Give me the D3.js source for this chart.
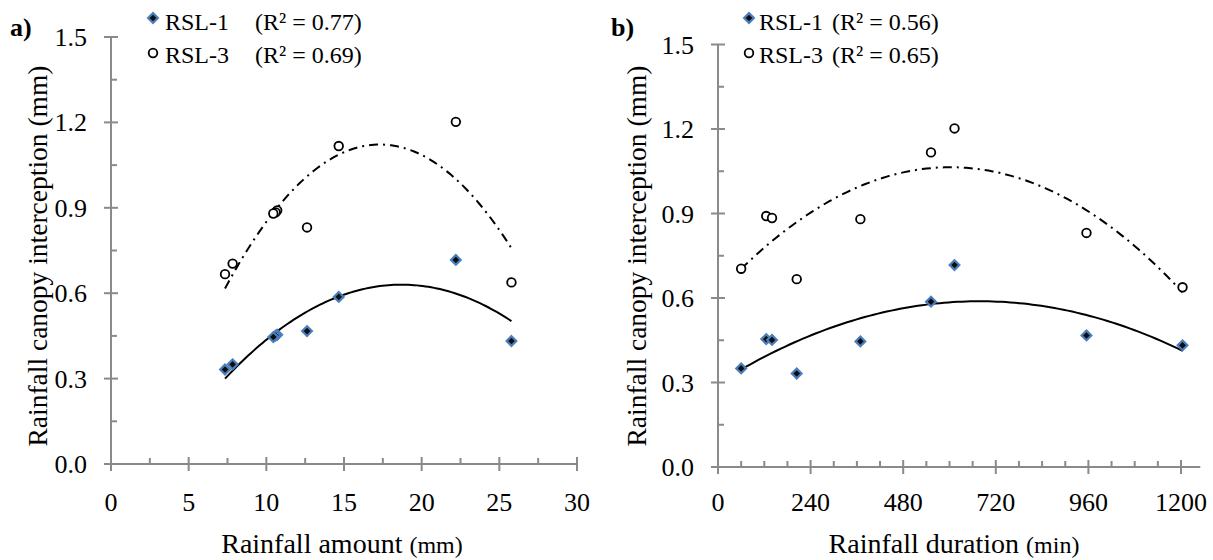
<!DOCTYPE html>
<html>
<head>
<meta charset="utf-8">
<script src="https://cdn.jsdelivr.net/npm/d3@7"></script>
<style>
  body { margin: 0; background: #fff; }
  svg text { font-family: "Liberation Serif", "Times New Roman", serif; fill: #000; }
</style>
</head>
<body>
<svg id="chart" width="1213" height="560"></svg>
<script>
// nine rainfall events, same order in both panels
const rainAmount = [7.83, 10.7, 10.6, 7.34, 10.45, 14.66, 22.2, 12.62, 25.78];   // mm
const rainDuration = [60, 125, 140, 204, 369, 552, 613, 955, 1204];              // min
const rsl1 = [0.350, 0.454, 0.451, 0.332, 0.446, 0.587, 0.717, 0.467, 0.432];
const rsl3 = [0.704, 0.891, 0.884, 0.667, 0.880, 1.117, 1.202, 0.831, 0.638];

const yTicks = [0, 0.3, 0.6, 0.9, 1.2, 1.5];
const xTicksA = [0, 5, 10, 15, 20, 25, 30];
const xTicksB = [0, 240, 480, 720, 960, 1200];
const r2A = ["0.77", "0.69"];
const r2B = ["0.56", "0.65"];

const svg = d3.select("#chart");
const axisColor = "#8a8a8a";

// quadratic least squares (Excel polynomial trendline, order 2)
function quadFit(xs, ys) {
  let s = [0, 0, 0, 0, 0], t = [0, 0, 0];
  xs.forEach((x, i) => {
    for (let k = 0; k < 5; k++) s[k] += Math.pow(x, k);
    for (let k = 0; k < 3; k++) t[k] += Math.pow(x, k) * ys[i];
  });
  const M = [[s[0], s[1], s[2], t[0]], [s[1], s[2], s[3], t[1]], [s[2], s[3], s[4], t[2]]];
  for (let c = 0; c < 3; c++) {
    for (let r = c + 1; r < 3; r++) {
      const f = M[r][c] / M[c][c];
      for (let k = c; k < 4; k++) M[r][k] -= f * M[c][k];
    }
  }
  const b = [0, 0, 0];
  for (let r = 2; r >= 0; r--) {
    let v = M[r][3];
    for (let k = r + 1; k < 3; k++) v -= M[r][k] * b[k];
    b[r] = v / M[r][r];
  }
  return x => b[0] + b[1] * x + b[2] * x * x;
}

function panel(opt) {
  const g = svg.append("g");
  const x = d3.scaleLinear().domain(opt.xDomain).range(opt.xRange);
  const y = d3.scaleLinear().domain([0, 1.5]).range(opt.yRange);

  // x axis: major ticks crossing, minor ticks inside
  const xa = g.append("g").attr("transform", `translate(0,${y(0)})`);
  xa.append("line").attr("x1", x(opt.xDomain[0])).attr("x2", x(opt.xDomain[1]))
    .attr("stroke", axisColor).attr("stroke-width", 2);
  xa.selectAll(".minor").data(opt.xMinor).join("line")
    .attr("x1", d => x(d)).attr("x2", d => x(d)).attr("y1", 0).attr("y2", -6)
    .attr("stroke", axisColor).attr("stroke-width", 2);
  xa.selectAll(".major").data(opt.xTicks).join("line")
    .attr("x1", d => x(d)).attr("x2", d => x(d)).attr("y1", -7).attr("y2", 7)
    .attr("stroke", axisColor).attr("stroke-width", 2);
  xa.selectAll("text").data(opt.xTicks).join("text")
    .attr("x", d => x(d)).attr("y", 511 - y(0)).attr("text-anchor", "middle")
    .attr("font-size", 26).text(d => d);

  // y axis
  const ya = g.append("g").attr("transform", `translate(${x(0)},0)`);
  ya.append("line").attr("y1", y(0)).attr("y2", y(1.5))
    .attr("stroke", axisColor).attr("stroke-width", 2);
  const yMinor = yTicks.slice(0, -1).map(v => v + 0.15);
  ya.selectAll(".minor").data(yMinor).join("line")
    .attr("y1", d => y(d)).attr("y2", d => y(d)).attr("x1", 0).attr("x2", 6)
    .attr("stroke", axisColor).attr("stroke-width", 2);
  ya.selectAll(".major").data(yTicks).join("line")
    .attr("y1", d => y(d)).attr("y2", d => y(d)).attr("x1", -7).attr("x2", 7)
    .attr("stroke", axisColor).attr("stroke-width", 2);
  ya.selectAll("text").data(yTicks).join("text")
    .attr("x", -24).attr("y", d => y(d) + 9).attr("text-anchor", "end")
    .attr("font-size", 26).text(d => d.toFixed(1));

  // trendlines
  [[rsl1, null], [rsl3, "9,5,2,5"]].forEach(([ys, dash]) => {
    const f = quadFit(opt.xs, ys);
    const lo = d3.min(opt.xs), hi = d3.max(opt.xs);
    const pts = d3.range(0, 101).map(i => lo + (hi - lo) * i / 100);
    g.append("path")
      .attr("d", d3.line().x(d => x(d)).y(d => y(f(d)))(pts))
      .attr("fill", "none").attr("stroke", "#000").attr("stroke-width", 2)
      .attr("stroke-dasharray", dash);
  });

  // points
  const diamond = d3.symbol().type(d3.symbolDiamond2).size(60);
  g.selectAll(".p1").data(opt.xs).join("path")
    .attr("d", diamond)
    .attr("transform", (d, i) => `translate(${x(d)},${y(rsl1[i])})`)
    .attr("fill", "#0d0d0d").attr("stroke", "#4a7ebb").attr("stroke-width", 2.2);
  g.selectAll(".p3").data(opt.xs).join("circle")
    .attr("cx", d => x(d)).attr("cy", (d, i) => y(rsl3[i])).attr("r", 4.3)
    .attr("fill", "#fff").attr("stroke", "#000").attr("stroke-width", 1.8);

  // titles
  const xt = g.append("text").attr("x", opt.xTitleX).attr("y", 553)
    .attr("text-anchor", "middle").attr("font-size", 28);
  xt.append("tspan").text(opt.xTitle + " ");
  xt.append("tspan").attr("font-size", 24).text(opt.xUnit);

  const yt = g.append("text")
    .attr("transform", `translate(${opt.yTitleX},${opt.yTitleY}) rotate(-90)`)
    .attr("text-anchor", "middle").attr("font-size", 27.5);
  yt.append("tspan").text("Rainfall canopy interception ");
  yt.append("tspan").text("(mm)");

  g.append("text").attr("x", opt.labelX).attr("y", 36)
    .attr("font-size", 26).attr("font-weight", "bold").text(opt.label);

  // legend
  const lg = g.append("g").attr("transform", `translate(${opt.legendX},0)`);
  lg.append("path").attr("d", diamond).attr("transform", "translate(0,18)")
    .attr("fill", "#0d0d0d").attr("stroke", "#4a7ebb").attr("stroke-width", 2.2);
  lg.append("circle").attr("cx", 0).attr("cy", 53).attr("r", 4.3)
    .attr("fill", "#fff").attr("stroke", "#000").attr("stroke-width", 1.8);
  ["RSL-1", "RSL-3"].forEach((s, i) => {
    lg.append("text").attr("x", opt.textOff).attr("y", 30 + 33 * i).attr("font-size", 24).text(s);
    lg.append("text").attr("x", opt.r2Off).attr("y", 30 + 33 * i).attr("font-size", 24)
      .text(`(R² = ${opt.r2[i]})`);
  });
}

panel({
  xs: rainAmount, xDomain: [0, 30], xRange: [111, 577], yRange: [464, 37],
  xTicks: xTicksA, xMinor: d3.range(2.5, 30, 5),
  xTitle: "Rainfall amount", xUnit: "(mm)", xTitleX: 342, yTitleX: 47, yTitleY: 256,
  label: "a)", labelX: 10, legendX: 153, textOff: 12, r2Off: 102, r2: r2A
});

panel({
  xs: rainDuration, xDomain: [0, 1250], xRange: [718, 718 + 463 * 1250 / 1200], yRange: [467, 44.5],
  xTicks: xTicksB, xMinor: d3.range(60, 1200, 60).filter(d => d % 240 !== 0),
  xTitle: "Rainfall duration", xUnit: "(min)", xTitleX: 954, yTitleX: 646, yTitleY: 256,
  label: "b)", labelX: 611, legendX: 749, textOff: 10, r2Off: 83, r2: r2B
});
</script>
</body>
</html>
